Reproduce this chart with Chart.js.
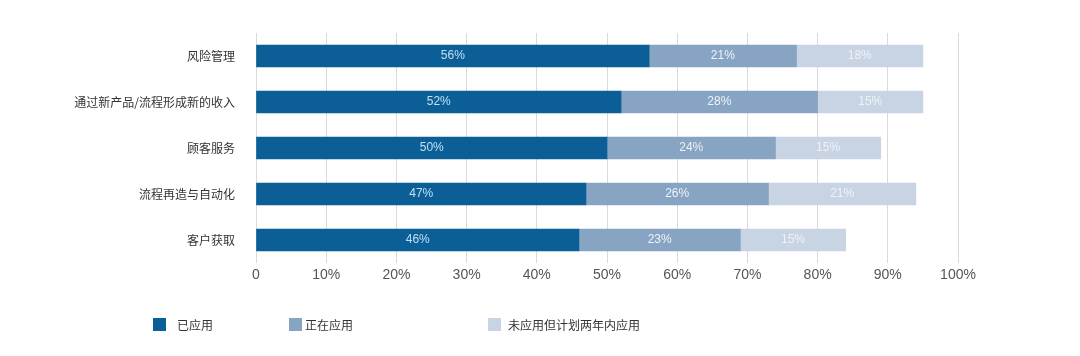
<!DOCTYPE html>
<html>
<head>
<meta charset="utf-8">
<script src="https://cdn.jsdelivr.net/npm/chart.js@4/dist/chart.umd.min.js"></script>
<style>
  html, body { margin: 0; padding: 0; background: #ffffff; }
  #wrap { position: relative; width: 1080px; height: 356px; }
  canvas { position: absolute; left: 0; top: 0; }
  .leg { position: absolute; top: 318px; height: 13px; font-family: "Noto Sans CJK SC", sans-serif; font-size: 12px; color: #333; line-height: 13px; white-space: nowrap; }
  .leg i { position: absolute; left: 0; top: 0; width: 13px; height: 13px; }
  .leg span { position: absolute; top: 0; }
</style>
</head>
<body>
<div id="wrap">
  <canvas id="c" width="1080" height="356"></canvas>
</div>
<script>
const categories = ["风险管理", "通过新产品/流程形成新的收入", "顾客服务", "流程再造与自动化", "客户获取"];
const seriesNames = ["已应用", "正在应用", "未应用但计划两年内应用"];
const applied = [56, 52, 50, 47, 46];
const applying = [21, 28, 24, 26, 23];
const planned = [18, 15, 15, 21, 15];
const tickValues = [0, 10, 20, 30, 40, 50, 60, 70, 80, 90, 100];
const tickLabels = ["0", "10%", "20%", "30%", "40%", "50%", "60%", "70%", "80%", "90%", "100%"];

const colors = ["#0b5f96", "#87a4c3", "#c8d4e4"];
const labelColors = ["#bfe0f5", "#eef3f8", "#eef2f7"];
const legendPos = [[153, 177], [289, 305], [488, 508]];

const seriesData = [applied, applying, planned];

// HTML legend
const wrap = document.getElementById('wrap');
seriesNames.forEach((name, i) => {
  const d = document.createElement('div');
  d.className = 'leg';
  d.style.left = legendPos[i][0] + 'px';
  const sq = document.createElement('i');
  sq.style.background = colors[i];
  const t = document.createElement('span');
  t.style.left = (legendPos[i][1] - legendPos[i][0]) + 'px';
  t.textContent = name;
  d.appendChild(sq); d.appendChild(t);
  wrap.appendChild(d);
});

const valueLabels = {
  id: 'valueLabels',
  afterDatasetsDraw(chart) {
    const ctx = chart.ctx;
    ctx.save();
    ctx.font = '12px "Liberation Sans", Arial, sans-serif';
    ctx.textAlign = 'center';
    ctx.textBaseline = 'middle';
    chart.data.datasets.forEach((ds, di) => {
      const meta = chart.getDatasetMeta(di);
      meta.data.forEach((bar, i) => {
        const cx = (bar.x + bar.base) / 2;
        ctx.fillStyle = labelColors[di];
        ctx.fillText(ds.data[i] + '%', cx, bar.y);
      });
    });
    ctx.restore();
  }
};

new Chart(document.getElementById('c'), {
  type: 'bar',
  data: {
    labels: categories,
    datasets: seriesNames.map((n, i) => ({
      label: n,
      data: seriesData[i],
      backgroundColor: colors[i],
      borderWidth: 0,
      barThickness: 22
    }))
  },
  options: {
    indexAxis: 'y',
    responsive: false,
    animation: false,
    devicePixelRatio: 1,
    layout: { padding: { left: 0, right: 122, top: 33, bottom: 0 } },
    plugins: { legend: { display: false }, tooltip: { enabled: false } },
    scales: {
      x: {
        stacked: true,
        min: 0, max: 100,
        afterBuildTicks(scale) { scale.ticks = tickValues.map(v => ({ value: v })); },
        afterFit(scale) { scale.height = 93; },
        grid: { color: '#dadada', lineWidth: 1, drawTicks: false },
        border: { display: false },
        ticks: {
          padding: 4,
          color: '#555',
          font: { family: '"Liberation Sans", Arial, sans-serif', size: 14 },
          callback: (v, idx) => tickLabels[idx]
        }
      },
      y: {
        stacked: true,
        afterFit(scale) { scale.width = 256; },
        grid: { display: false },
        border: { display: false },
        ticks: {
          padding: 13,
          color: '#333',
          font: { family: '"Noto Sans CJK SC", sans-serif', size: 12 }
        }
      }
    }
  },
  plugins: [valueLabels]
});
</script>
</body>
</html>
